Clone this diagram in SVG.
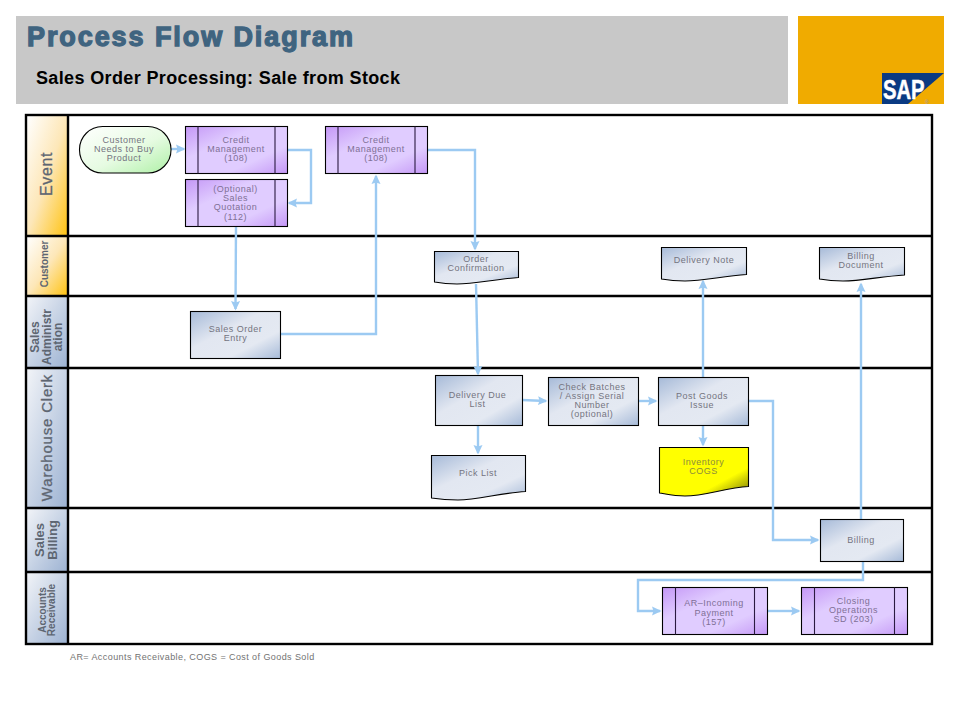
<svg xmlns="http://www.w3.org/2000/svg" width="960" height="720" viewBox="0 0 960 720">
<style>
text{font-family:"Liberation Sans",Arial,sans-serif}
.n{font-size:9px;letter-spacing:.5px;fill:#74747f;text-anchor:middle}
.p{fill:#7f7096}
.y{fill:#8c8c3c}
.box{stroke:#000;stroke-width:1.1}
.div{stroke:#2a1a40;stroke-width:1.1;fill:none}
.lane{fill:none;stroke:#000;stroke-width:2.4}
.c{fill:none;stroke:#9ccaf2;stroke-width:2.4;marker-end:url(#a)}
.l{fill:#5e6672;text-anchor:middle;font-weight:bold}
.r{font-weight:normal;stroke:#5e6672;stroke-width:.3}
</style>
<defs>
<marker id="a" markerUnits="userSpaceOnUse" markerWidth="11" markerHeight="11" refX="8" refY="5.5" orient="auto"><path d="M0 1L9.500 5.500L0 10L1.500 5.500Z" fill="#9ccaf2"/></marker>
<linearGradient id="g" x1="0" y1="0" x2="1" y2="1"><stop offset="0" stop-color="#fff"/><stop offset=".55" stop-color="#e6fbe2"/><stop offset="1" stop-color="#aef0a6"/></linearGradient>
<linearGradient id="pu" x1="0" y1="0" x2="1" y2="1"><stop offset="0" stop-color="#c497f6"/><stop offset=".35" stop-color="#e0ccff"/><stop offset=".7" stop-color="#e0ccff"/><stop offset="1" stop-color="#c497f6"/></linearGradient>
<linearGradient id="b" x1="0" y1="0" x2="1" y2="1"><stop offset="0" stop-color="#a6bad8"/><stop offset=".4" stop-color="#e2e7f1"/><stop offset=".7" stop-color="#e4e9f2"/><stop offset="1" stop-color="#a6bad8"/></linearGradient>
<linearGradient id="ye" x1="0" y1="0" x2="1" y2="1"><stop offset="0" stop-color="#ffff00"/><stop offset=".7" stop-color="#ffff00"/><stop offset="1" stop-color="#70700c"/></linearGradient>
<linearGradient id="or" x1="0" y1="0" x2="1" y2="1"><stop offset="0" stop-color="#fff"/><stop offset=".5" stop-color="#fde7b8"/><stop offset="1" stop-color="#ffc20e"/></linearGradient>
<linearGradient id="bl" x1="0" y1="0" x2="1" y2="1"><stop offset="0" stop-color="#f2f4f8"/><stop offset="1" stop-color="#9cb2d2"/></linearGradient>
</defs>

<g id="header">
<rect x="16" y="16" width="772" height="88" fill="#c8c8c8"/>
<rect x="798" y="16" width="146" height="88" fill="#f0ab00"/>
<polygon points="882,73 944,73 908,104 882,104" fill="#0a3a82"/>
<text transform="translate(883 99) scale(.75 1)" font-size="27" font-weight="bold" fill="#fff" stroke="#fff" stroke-width=".5">SAP</text>
<text x="925" y="104" font-size="5" fill="#9a9ac0">®</text>
<text x="27" y="46" font-size="27" font-weight="bold" fill="#3f6480" stroke="#3f6480" stroke-width="1.3" textLength="326">Process Flow Diagram</text>
<text x="36" y="84" font-size="18" font-weight="bold" fill="#000" textLength="364">Sales Order Processing: Sale from Stock</text>
</g>

<g id="lanes">
<rect x="27" y="116" width="41" height="120" fill="url(#or)"/>
<rect x="27" y="236" width="41" height="60" fill="url(#or)"/>
<rect x="27" y="296" width="41" height="72" fill="url(#bl)"/>
<rect x="27" y="368" width="41" height="140" fill="url(#bl)"/>
<rect x="27" y="508" width="41" height="64" fill="url(#bl)"/>
<rect x="27" y="572" width="41" height="72" fill="url(#bl)"/>
<rect class="lane" x="26" y="115" width="906" height="529"/>
<path class="lane" d="M68 115V644M26 236H932M26 296H932M26 368H932M26 508H932M26 572H932"/>
<text class="l r" transform="translate(52 174) rotate(-90)" font-size="16" letter-spacing=".6">Event</text>
<text class="l" transform="translate(48 264) rotate(-90)" font-size="10">Customer</text>
<text class="l" font-size="12" transform="translate(39 337) rotate(-90)">Sales</text>
<text class="l" font-size="12" transform="translate(51 337) rotate(-90)">Administr</text>
<text class="l" font-size="12" transform="translate(62 337) rotate(-90)">ation</text>
<text class="l r" transform="translate(52 437.500) rotate(-90)" font-size="15" letter-spacing=".8">Warehouse Clerk</text>
<text class="l" font-size="13" font-weight="normal" transform="translate(44 540) rotate(-90)">Sales</text>
<text class="l" font-size="13" font-weight="normal" transform="translate(57 540) rotate(-90)">Billing</text>
<text class="l" font-size="10" transform="translate(45.500 610) rotate(-90)">Accounts</text>
<text class="l" font-size="10" transform="translate(55 610) rotate(-90)">Receivable</text>
</g>

<g id="connectors">
<path class="c" d="M171 149H184"/>
<path class="c" d="M287 150H311V203H289"/>
<path class="c" d="M236 227L235.500 309"/>
<path class="c" d="M281 334H376V176"/>
<path class="c" d="M428 150H475V249"/>
<path class="c" d="M476 284L478 374"/>
<path class="c" d="M522 400L546 401"/>
<path class="c" d="M639 401H656"/>
<path class="c" d="M703 377V281"/>
<path class="c" d="M703 426V445"/>
<path class="c" d="M478 426V453"/>
<path class="c" d="M748 401H773V540H818"/>
<path class="c" d="M861 519V284"/>
<path class="c" d="M863 562V580H638V611H660"/>
<path class="c" d="M768 611H799"/>
</g>

<g id="customer-needs"><rect class="box" x="79.500" y="126.500" width="91.500" height="46.500" rx="23" fill="url(#g)"/>
<text class="n" x="124" y="143">Customer</text><text class="n" x="124" y="152">Needs to Buy</text><text class="n" x="124" y="161">Product</text></g>

<g id="credit-1"><rect class="box" x="185.500" y="126.500" width="102" height="47" fill="url(#pu)"/><path class="div" d="M198 126.500V173.500M275 126.500V173.500"/>
<text class="n p" x="236" y="143">Credit</text><text class="n p" x="236" y="152">Management</text><text class="n p" x="236" y="161">(108)</text></g>

<g id="quotation"><rect class="box" x="185.500" y="179.500" width="102" height="47" fill="url(#pu)"/><path class="div" d="M198 179.500V226.500M275 179.500V226.500"/>
<text class="n p" x="235.500" y="192">(Optional)</text><text class="n p" x="235.500" y="201">Sales</text><text class="n p" x="235.500" y="210">Quotation</text><text class="n p" x="235.500" y="219.500">(112)</text></g>

<g id="credit-2"><rect class="box" x="325.500" y="126.500" width="102" height="47" fill="url(#pu)"/><path class="div" d="M338 126.500V173.500M415 126.500V173.500"/>
<text class="n p" x="376" y="143">Credit</text><text class="n p" x="376" y="152">Management</text><text class="n p" x="376" y="161">(108)</text></g>

<g id="order-confirmation"><path class="box" fill="url(#b)" d="M434.500 251.500H518.500V277.500C495 279 475 284 457 284C447 284 440 283 434.500 282Z"/>
<text class="n" x="476" y="262">Order</text><text class="n" x="476" y="271">Confirmation</text></g>

<g id="delivery-note"><path class="box" fill="url(#b)" d="M661.500 247.500H746.500V274.500C723 276 703 281 685 281C675 281 667 280 661.500 279Z"/>
<text class="n" x="704" y="263">Delivery Note</text></g>

<g id="billing-document"><path class="box" fill="url(#b)" d="M819.500 247.500H904.500V275C881 276.500 861 281 843 281C833 281 825 280 819.500 279Z"/>
<text class="n" x="861" y="259">Billing</text><text class="n" x="861" y="268">Document</text></g>

<g id="sales-order-entry"><rect class="box" x="190.500" y="311.500" width="90" height="47" fill="url(#b)"/>
<text class="n" x="235.500" y="332">Sales Order</text><text class="n" x="235.500" y="341">Entry</text></g>

<g id="delivery-due-list"><rect class="box" x="435.500" y="375.500" width="87" height="50" fill="url(#b)"/>
<text class="n" x="477.500" y="398">Delivery Due</text><text class="n" x="477.500" y="407">List</text></g>

<g id="check-batches"><rect class="box" x="548.500" y="377.500" width="90" height="48" fill="url(#b)"/>
<text class="n" x="592" y="390">Check Batches</text><text class="n" x="592" y="399">/ Assign Serial</text><text class="n" x="592" y="408">Number</text><text class="n" x="592" y="417">(optional)</text></g>

<g id="post-goods-issue"><rect class="box" x="658.500" y="377.500" width="90" height="48" fill="url(#b)"/>
<text class="n" x="702" y="399">Post Goods</text><text class="n" x="702" y="408">Issue</text></g>

<g id="pick-list"><path class="box" fill="url(#b)" d="M431.500 455.500H525.500V491.500C500 493 478 500 458 500C447 500 438 499 431.500 498Z"/>
<text class="n" x="478" y="476">Pick List</text></g>

<g id="inventory-cogs"><path class="box" fill="url(#ye)" d="M659.500 447.500H748.500V486.500C725 488 705 496 685 496C674 496 666 494 659.500 493Z"/>
<text class="n y" x="703.500" y="465">Inventory</text><text class="n y" x="703.500" y="474">COGS</text></g>

<g id="billing"><rect class="box" x="820.500" y="519.500" width="83" height="42" fill="url(#b)"/>
<text class="n" x="861" y="543">Billing</text></g>

<g id="ar-incoming"><rect class="box" x="662.500" y="587.500" width="105" height="47" fill="url(#pu)"/><path class="div" d="M675.500 587.500V634.500M754.500 587.500V634.500"/>
<text class="n p" x="714" y="606">AR–Incoming</text><text class="n p" x="714" y="616">Payment</text><text class="n p" x="714" y="625">(157)</text></g>

<g id="closing-operations"><rect class="box" x="801.500" y="587.500" width="106" height="47" fill="url(#pu)"/><path class="div" d="M814.500 587.500V634.500M894.500 587.500V634.500"/>
<text class="n p" x="853.500" y="604">Closing</text><text class="n p" x="853.500" y="613">Operations</text><text class="n p" x="853.500" y="622">SD (203)</text></g>

<text x="70" y="660" font-size="9" letter-spacing=".42" fill="#727272">AR= Accounts Receivable, COGS = Cost of Goods Sold</text>
</svg>
